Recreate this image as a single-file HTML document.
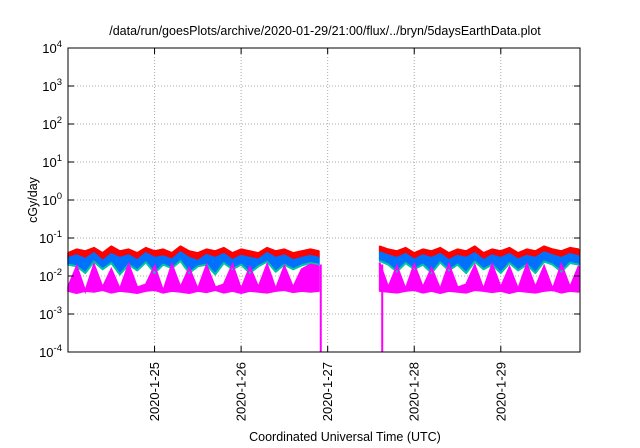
<!DOCTYPE html>
<html><head><meta charset="utf-8"><style>
body{margin:0;background:#fff}
svg{display:block;font-family:"Liberation Sans",sans-serif}
</style></head><body>
<svg id="chart" width="640" height="448">
<text x="325" y="35" text-anchor="middle" font-size="12.5">/data/run/goesPlots/archive/2020-01-29/21:00/flux/../bryn/5daysEarthData.plot</text>
<text transform="translate(37,200) rotate(-90)" text-anchor="middle" font-size="12.5">cGy/day</text>
<text x="345" y="441" text-anchor="middle" font-size="12.5">Coordinated Universal Time (UTC)</text>
<g id="grid"></g><g id="series"></g><g id="axes"></g>
</svg>
<script>
const times=[];for(let i=0;i<60;i++)times.push(24.0+i*0.1);
const N6=[null,null,null,null,null,null];
const red=[0.04,0.05,0.045,0.055,0.04,0.06,0.045,0.05,0.04,0.055,0.045,0.05,0.04,0.06,0.045,0.04,0.05,0.045,0.055,0.04,0.05,0.045,0.04,0.055,0.045,0.05,0.04,0.045,0.05,0.045,...N6,0.06,0.05,0.045,0.055,0.04,0.05,0.045,0.055,0.04,0.05,0.045,0.06,0.04,0.05,0.045,0.055,0.04,0.05,0.045,0.06,0.05,0.045,0.055,0.05];
const blue=[0.03,0.035,0.028,0.04,0.025,0.038,0.03,0.035,0.026,0.04,0.03,0.033,0.027,0.042,0.03,0.025,0.036,0.03,0.038,0.026,0.034,0.03,0.027,0.04,0.03,0.035,0.026,0.03,0.034,0.03,...N6,0.042,0.035,0.03,0.038,0.027,0.035,0.03,0.038,0.026,0.034,0.03,0.04,0.026,0.035,0.03,0.038,0.027,0.034,0.03,0.042,0.035,0.03,0.038,0.033];
const teal=[0.02,0.018,0.012,0.024,0.015,0.022,0.011,0.02,0.014,0.023,0.012,0.02,0.016,0.025,0.012,0.018,0.02,0.011,0.022,0.015,0.02,0.012,0.018,0.024,0.013,0.02,0.015,0.019,0.022,0.02,...N6,0.025,0.02,0.013,0.022,0.015,0.02,0.012,0.023,0.014,0.02,0.012,0.024,0.015,0.02,0.012,0.022,0.014,0.02,0.012,0.024,0.02,0.013,0.022,0.02];
const magenta=[0.005,0.018,0.004,0.02,0.005,0.015,0.0045,0.02,0.005,0.006,0.018,0.004,0.02,0.005,0.016,0.0045,0.019,0.005,0.006,0.02,0.0045,0.017,0.005,0.02,0.0045,0.018,0.005,0.015,0.02,0.018,...N6,0.022,0.005,0.018,0.0045,0.02,0.005,0.016,0.0045,0.02,0.005,0.006,0.019,0.0045,0.02,0.005,0.017,0.0045,0.02,0.005,0.018,0.0045,0.02,0.005,0.018];
const magentaFloor=[0.004,0.0035,0.004,0.0038,0.0042,0.0036,0.004,0.0038,0.0035,0.004,0.0042,0.0036,0.004,0.0038,0.0035,0.004,0.0037,0.0042,0.0036,0.004,0.0035,0.004,0.0038,0.0036,0.004,0.0042,0.0037,0.004,0.0038,0.004,...N6,0.004,0.0038,0.0036,0.004,0.0042,0.0036,0.004,0.0035,0.004,0.0038,0.0036,0.0042,0.004,0.0037,0.004,0.0035,0.004,0.0038,0.0036,0.004,0.0042,0.0036,0.004,0.0038];
const dropTimes=[26.92,27.63];
const yTicks=[-4,-3,-2,-1,0,1,2,3,4];
const xTicks=[25,26,27,28,29];
const xTickLabels=["2020-1-25","2020-1-26","2020-1-27","2020-1-28","2020-1-29"];
const L=68,R=580,T=48,B=352,X0=24.0,X1=29.915;
const xs=t=>L+(t-X0)/(X1-X0)*(R-L);
const ys=v=>B-(Math.log10(v)+4)/8*(B-T);
const NS="http://www.w3.org/2000/svg";
function mk(tag,attrs,parent){const e=document.createElementNS(NS,tag);for(const k in attrs)e.setAttribute(k,attrs[k]);parent.appendChild(e);return e;}
const grid=document.getElementById('grid'),ser=document.getElementById('series'),ax=document.getElementById('axes');
yTicks.forEach(p=>{const y=ys(Math.pow(10,p));
 if(p>-4&&p<4){const g=mk('line',{x1:L,x2:R,y1:y,y2:y,stroke:'#aaa','stroke-dasharray':'1,2'},grid);
 
 }
 mk('line',{x1:L,x2:L+6,y1:y,y2:y,stroke:'#000'},ax);mk('line',{x1:R,x2:R-6,y1:y,y2:y,stroke:'#000'},ax);
 const t=mk('text',{x:L-6,y:y+5,'text-anchor':'end','font-size':'13'},ax);
 
 
 t.textContent='10';const s=mk('tspan',{dy:'-6','font-size':'9.5'},t);s.textContent=String(p);});
xTicks.forEach((d,i)=>{const x=xs(d);
 const g=mk('line',{x1:x,x2:x,y1:T,y2:B,stroke:'#aaa','stroke-dasharray':'1,2'},grid);
 
 
 mk('line',{x1:x,x2:x,y1:B,y2:B-6,stroke:'#000'},ax);mk('line',{x1:x,x2:x,y1:T,y2:T+6,stroke:'#000'},ax);
 const t=mk('text',{transform:`translate(${x+4.5},${B+10}) rotate(-90)`,'text-anchor':'end','font-size':'13'},ax);
 
 
 t.textContent=xTickLabels[i];});
const fr=mk('rect',{x:L,y:T,width:R-L,height:B-T,fill:'none',stroke:'#000','stroke-width':'1'},ax);


function path(vals){let d='',pen=false;vals.forEach((v,i)=>{if(v==null){pen=false;return;}d+=(pen?'L':'M')+xs(times[i]).toFixed(1)+','+ys(v).toFixed(1);pen=true;});return d;}
function segs(){const out=[];let cur=null;times.forEach((t,i)=>{if(red[i]==null){cur=null;return;}if(!cur){cur=[];out.push(cur);}cur.push(i);});return out;}
function band(top,bot){let d='';segs().forEach(s=>{s.forEach((i,k)=>{d+=(k?'L':'M')+xs(times[i]).toFixed(1)+','+ys(top[i]).toFixed(1);});for(let k=s.length-1;k>=0;k--){const i=s[k];d+='L'+xs(times[i]).toFixed(1)+','+ys(bot[i]).toFixed(1);}d+='Z';});return d;}
const bands=[[red,blue,'#ff0000','red-band'],[blue,teal,'#0070ff','blue-band'],[magenta,magentaFloor,'#ff00ff','magenta-band']];
bands.forEach(([a,b,c,n])=>{const p=mk('path',{d:band(a,b),fill:c,stroke:c,'stroke-width':'1.5','stroke-linejoin':'round'},ser);
 
 });
[[teal,'#00c8a0','teal-series'],[blue,'#0070ff','blue-series'],[red,'#ff0000','red-series']].forEach(([v,c,n])=>{
 const p=mk('path',{d:path(v),fill:'none',stroke:c,'stroke-width':'2','stroke-linejoin':'round'},ser);
 
 });
const mp=mk('path',{d:path(magenta),fill:'none',stroke:'#ff00ff','stroke-width':'2'},ser);


dropTimes.forEach(t=>{const x=xs(t);
 const l=mk('line',{x1:x,x2:x,y1:ys(0.02),y2:B,stroke:'#ff00ff','stroke-width':'2'},ser);
 
 });
</script>
</body></html>
